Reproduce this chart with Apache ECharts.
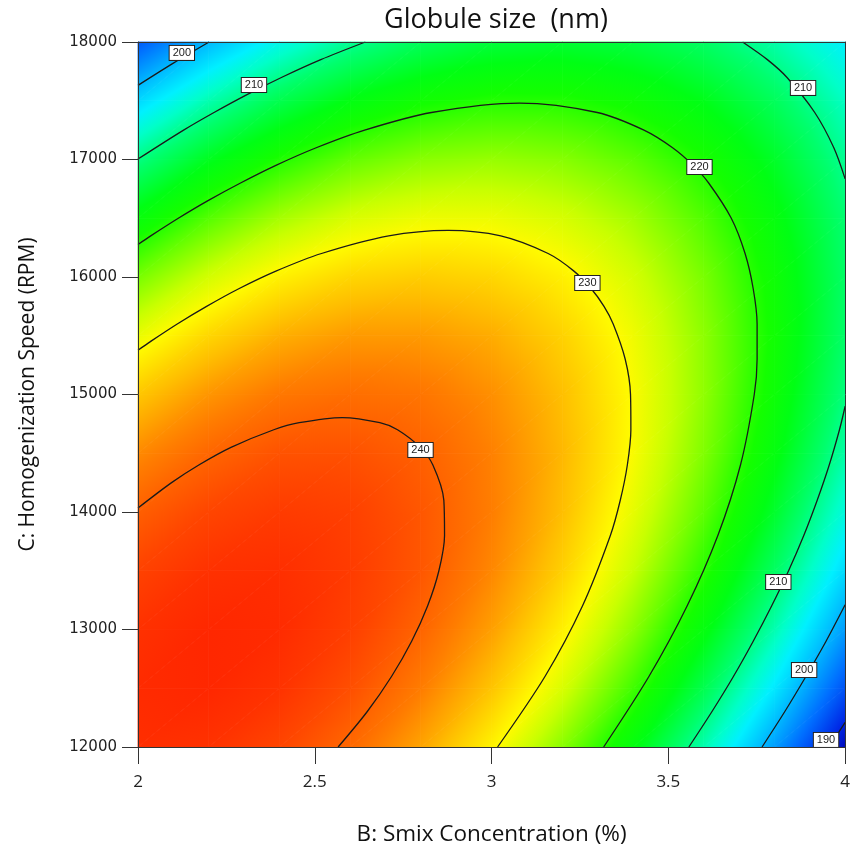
<!DOCTYPE html>
<html><head><meta charset="utf-8">
<script src="https://cdn.jsdelivr.net/npm/echarts@6/dist/echarts.min.js"></script>
<style>html,body{margin:0;padding:0;background:#fff}#c{width:853px;height:854px}</style>
</head><body><div id="c"></div>
<script>
// ---- data ----
const smixNodes = [2, 2.2, 2.4, 2.6, 2.8, 3, 3.2, 3.4, 3.6, 3.8, 4];
const speedNodes = [12000, 12500, 13000, 13500, 14000, 14500, 15000, 15500, 16000, 16500, 17000, 17500, 18000];
// globule size (nm), one row per speedNodes entry, one column per smixNodes entry
const globuleSize = [
  [243.9, 243.6, 242.1, 239.5, 235.6, 230.5, 224.2, 216.7, 208.1, 198.2, 187.1],
  [244.2, 244.5, 243.6, 241.4, 238.1, 233.6, 227.9, 221.0, 212.8, 203.5, 193.0],
  [243.7, 244.5, 244.2, 242.6, 239.8, 235.9, 230.7, 224.4, 216.8, 208.1, 198.1],
  [242.3, 243.7, 243.9, 242.9, 240.8, 237.4, 232.8, 227.0, 220.0, 211.8, 202.4],
  [240.2, 242.1, 242.9, 242.5, 240.8, 238.0, 234.0, 228.7, 222.3, 214.7, 205.8],
  [237.2, 239.7, 241.1, 241.2, 240.1, 237.8, 234.4, 229.7, 223.8, 216.8, 208.5],
  [233.4, 236.5, 238.4, 239.1, 238.6, 236.9, 233.9, 229.8, 224.5, 218.0, 210.3],
  [228.8, 232.4, 234.9, 236.2, 236.2, 235.1, 232.7, 229.2, 224.4, 218.5, 211.3],
  [223.4, 227.6, 230.6, 232.4, 233.0, 232.4, 230.7, 227.7, 223.5, 218.1, 211.5],
  [217.1, 221.9, 225.5, 227.9, 229.0, 229.0, 227.8, 225.4, 221.7, 216.9, 210.9],
  [210.1, 215.4, 219.5, 222.5, 224.2, 224.8, 224.1, 222.2, 219.2, 214.9, 209.4],
  [202.2, 208.1, 212.8, 216.3, 218.6, 219.7, 219.6, 218.3, 215.8, 212.1, 207.2],
  [193.5, 200.0, 205.2, 209.3, 212.1, 213.8, 214.3, 213.5, 211.6, 208.4, 204.1]
];
// contour lines: [smix %, speed rpm]
const contour240 = [[2.0,14034],[2.095,14250],[2.172,14400],[2.263,14550],[2.384,14700],[2.456,14760],[2.578,14804],[2.684,14760],[2.734,14700],[2.798,14550],[2.834,14400],[2.865,14100],[2.867,13800],[2.851,13500],[2.819,13200],[2.774,12900],[2.717,12600],[2.648,12300],[2.566,12000]];
const contour230 = [[2.0,15377],[2.035,15450],[2.111,15600],[2.194,15750],[2.285,15900],[2.390,16050],[2.519,16200],[2.709,16350],[2.877,16397],[3.026,16350],[3.160,16200],[3.233,16050],[3.282,15900],[3.318,15750],[3.344,15600],[3.378,15300],[3.393,15000],[3.394,14700],[3.384,14400],[3.364,14100],[3.336,13800],[3.257,13200],[3.151,12600],[3.017,12000]];
const contour220 = [[2.0,16277],[2.036,16350],[2.114,16500],[2.198,16650],[2.290,16800],[2.390,16950],[2.504,17100],[2.641,17250],[2.830,17400],[3.079,17480],[3.299,17400],[3.431,17250],[3.512,17100],[3.570,16950],[3.614,16800],[3.678,16500],[3.717,16200],[3.740,15900],[3.751,15600],[3.751,15300],[3.743,15000],[3.704,14400],[3.640,13800],[3.553,13200],[3.445,12600],[3.317,12000]];
const contour210TopLeft = [[2.0,17004],[2.129,17250],[2.215,17400],[2.307,17550],[2.407,17700],[2.517,17850],[2.643,18000]];
const contour210TopRight = [[3.710,18000],[3.780,17850],[3.835,17700],[3.914,17400],[3.968,17100],[4.0,16835]];
const contour210Right = [[4.0,14900],[3.984,14700],[3.955,14400],[3.921,14100],[3.883,13800],[3.840,13500],[3.792,13200],[3.740,12900],[3.684,12600],[3.623,12300],[3.558,12000]];
const contour200TopLeft = [[2.0,17631],[2.100,17820],[2.201,18000]];
const contour200Right = [[4.0,13210],[3.946,12900],[3.889,12600],[3.829,12300],[3.765,12000]];
const contour190 = [[4.0,12210],[3.955,12000]];
// contour level labels: [smix, speed, level]
const contourLabels = [[2.124,17907,200],[2.328,17634,210],[3.881,17609,210],[3.588,16936,220],[3.271,15949,230],[2.799,14528,240],[3.811,13404,210],[3.884,12655,200],[3.946,12060,190]];
const xTicks = [2, 2.5, 3, 3.5, 4];
const yTicks = [12000, 13000, 14000, 15000, 16000, 17000, 18000];

// ---- colour scale (style) ----
const colorKnots = [
  [186,[0,0,170]],[190,[0,40,230]],[195,[0,110,255]],[200,[0,185,255]],[204,[0,240,255]],
  [207,[0,255,200]],[211,[0,255,110]],[216,[0,255,20]],[219,[20,255,0]],[223,[110,255,0]],
  [227,[200,255,0]],[230,[255,250,0]],[234,[255,190,0]],[238,[255,125,0]],[242,[255,70,0]],[246,[255,20,0]]
];
function colorOf(v){
  if (v <= colorKnots[0][0]) return 'rgb('+colorKnots[0][1].join(',')+')';
  const last = colorKnots[colorKnots.length-1];
  if (v >= last[0]) return 'rgb('+last[1].join(',')+')';
  for (let i=0;i<colorKnots.length-1;i++){
    const a=colorKnots[i], b=colorKnots[i+1];
    if (v>=a[0] && v<=b[0]){
      const t=(v-a[0])/(b[0]-a[0]);
      const c=a[1].map((x,k)=>Math.round(x+(b[1][k]-x)*t));
      return 'rgb('+c.join(',')+')';
    }
  }
}
function triangle(P, F){
  const [p1,p2,p3]=P, [f1,f2,f3]=F;
  const d1x=p2[0]-p1[0], d1y=p2[1]-p1[1], d2x=p3[0]-p1[0], d2y=p3[1]-p1[1];
  const df1=f2-f1, df2=f3-f1;
  const det=d1x*d2y-d1y*d2x;
  const fmin=Math.min(f1,f2,f3), fmax=Math.max(f1,f2,f3);
  let fill;
  if (Math.abs(det)<1e-9 || fmax-fmin<1e-6){
    fill=colorOf((f1+f2+f3)/3);
  } else {
    const gx=(df1*d2y-df2*d1y)/det, gy=(d1x*df2-d2x*df1)/det;
    const g2=gx*gx+gy*gy;
    const ta=(fmin-f1)/g2, tb=(fmax-f1)/g2;
    const stops=[{offset:0,color:colorOf(fmin)}];
    colorKnots.forEach(k=>{ if(k[0]>fmin && k[0]<fmax) stops.push({offset:(k[0]-fmin)/(fmax-fmin),color:colorOf(k[0])}); });
    stops.push({offset:1,color:colorOf(fmax)});
    fill=new echarts.graphic.LinearGradient(p1[0]+gx*ta,p1[1]+gy*ta,p1[0]+gx*tb,p1[1]+gy*tb,stops,true);
  }
  return {type:'polygon', shape:{points:P}, style:{fill:fill, stroke:fill, lineWidth:0.8}, silent:true};
}

const cells=[];
for (let j=0;j<speedNodes.length-1;j++){
  for (let i=0;i<smixNodes.length-1;i++){
    cells.push([smixNodes[i],speedNodes[j],smixNodes[i+1],speedNodes[j+1],
      globuleSize[j][i],globuleSize[j][i+1],globuleSize[j+1][i],globuleSize[j+1][i+1]]);
  }
}

function contourSeries(data){
  return {type:'line', data:data, showSymbol:false, symbol:'none', smooth:0.3, z:3, silent:true,
    lineStyle:{color:'#1a1a1a', width:1.3}, animation:false};
}

const chart=echarts.init(document.getElementById('c'),null,{renderer:'canvas'});
const axisColor='#333';
chart.setOption({
  animation:false,
  backgroundColor:'#fff',
  title:{text:'Globule size  (nm)', left:491, textAlign:'center', top:2,
    textStyle:{fontFamily:'Open Sans', fontSize:27, fontWeight:'normal', color:'#111'}},
  grid:{left:138, right:7, top:42, bottom:107, containLabel:false},
  xAxis:[
    {type:'value', min:2, max:4, interval:0.5, position:'bottom', z:5,
     name:'B: Smix Concentration (%)', nameLocation:'middle', nameGap:76,
     nameTextStyle:{fontFamily:'Open Sans', fontSize:22.5, color:'#111'},
     axisLine:{show:true, onZero:false, lineStyle:{color:axisColor, width:1}},
     axisTick:{show:true, length:17, lineStyle:{color:axisColor}},
     axisLabel:{margin:27, fontFamily:'Open Sans', fontSize:17, color:'#222',
       formatter:v=>xTicks.includes(v)?String(v):''},
     splitLine:{show:false}},
    {type:'value', min:2, max:4, position:'top', z:5,
     axisLine:{show:true, onZero:false, lineStyle:{color:axisColor, width:1}},
     axisTick:{show:false}, axisLabel:{show:false}, splitLine:{show:false}}
  ],
  yAxis:[
    {type:'value', min:12000, max:18000, interval:1000, position:'left', z:5,
     name:'C: Homogenization Speed (RPM)', nameLocation:'middle', nameGap:99, nameRotate:90,
     nameTextStyle:{fontFamily:'Open Sans', fontSize:21, color:'#111'},
     axisLine:{show:true, onZero:false, lineStyle:{color:axisColor, width:1}},
     axisTick:{show:true, length:16, lineStyle:{color:axisColor}},
     axisLabel:{margin:21, fontFamily:'DejaVu Sans', fontSize:15, color:'#222',
       formatter:v=>yTicks.includes(v)?String(v):''},
     splitLine:{show:false}},
    {type:'value', min:12000, max:18000, position:'right', z:5,
     axisLine:{show:true, onZero:false, lineStyle:{color:axisColor, width:1}},
     axisTick:{show:false}, axisLabel:{show:false}, splitLine:{show:false}}
  ],
  series:[
    {type:'custom', z:1, silent:true, xAxisIndex:0, yAxisIndex:0, data:cells,
     encode:{x:[0,2], y:[1,3]},
     renderItem:function(params, api){
       const x0=api.value(0), y0=api.value(1), x1=api.value(2), y1=api.value(3);
       const f00=api.value(4), f10=api.value(5), f01=api.value(6), f11=api.value(7);
       const p00=api.coord([x0,y0]), p10=api.coord([x1,y0]), p01=api.coord([x0,y1]), p11=api.coord([x1,y1]);
       return {type:'group', children:[
         triangle([p00,p10,p11],[f00,f10,f11]),
         triangle([p00,p11,p01],[f00,f11,f01])
       ]};
     }},
    contourSeries(contour240),
    contourSeries(contour230),
    contourSeries(contour220),
    contourSeries(contour210TopLeft),
    contourSeries(contour210TopRight),
    contourSeries(contour210Right),
    contourSeries(contour200TopLeft),
    contourSeries(contour200Right),
    contourSeries(contour190),
    {type:'scatter', z:4, silent:true, data:contourLabels, symbol:'rect', symbolSize:1,
     itemStyle:{color:'#ffffff', opacity:1},
     label:{show:true, position:'inside', opacity:1, formatter:p=>String(p.value[2]),
       fontFamily:'Liberation Sans', fontSize:11, color:'#222', backgroundColor:'#ffffff',
       borderColor:'#222', borderWidth:1, padding:[2,3,1,3]}}
  ]
});
</script>
</body></html>
